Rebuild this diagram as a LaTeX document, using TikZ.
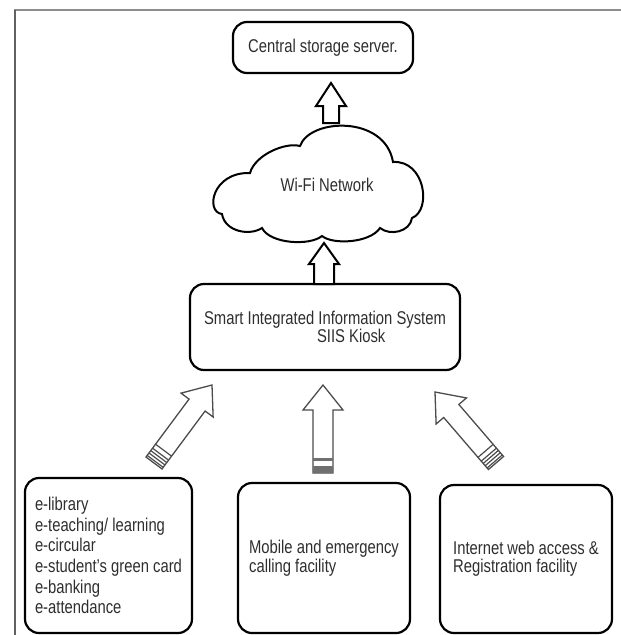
\documentclass[tikz,border=0pt]{standalone}
\usepackage{fontspec}
\setmainfont{Liberation Sans}[FakeStretch=0.8]
\usetikzlibrary{calc}
\definecolor{txt}{gray}{0.18}
\definecolor{arrgray}{gray}{0.3}
\definecolor{framegray}{gray}{0.55}
\newcommand\blockarrow[7]{%
  \coordinate (#1h) at ($(#3)!#6!(#2)$);
  \draw[#7] ($(#2)!#4!90:(#3)$) -- ($(#1h)!#4!-90:(#2)$) -- ($(#1h)!#5!-90:(#2)$) -- (#3) -- ($(#1h)!#5!90:(#2)$) -- ($(#1h)!#4!90:(#2)$) -- ($(#2)!#4!-90:(#3)$) -- cycle;
}
\newcommand\tailstripes[5]{%
  \foreach \dd in {#4} {
    \coordinate (tmpS) at ($(#1)!\dd!(#2)$);
    \draw[#5] ($(tmpS)!#3!90:(#2)$) -- ($(tmpS)!#3!-90:(#2)$);
  }
}
\tikzset{
  box/.style={draw=black, line width=2.2pt, rounded corners=14pt, inner sep=0pt, align=left, text=txt},
  fnt/.style={font=\fontsize{18.5}{#1}\selectfont},
  blackarrow/.style={draw=black, line width=2pt, fill=white, line join=miter},
  grayarrow/.style={draw=arrgray, line width=1.3pt, fill=white, line join=miter},
  stripe/.style={draw=arrgray, line width=1.2pt}
}
\begin{document}
\begin{tikzpicture}[x=1pt,y=-1pt]
\useasboundingbox (0,0) rectangle (621,635);
% frame
\draw[framegray, line width=2.5pt] (14,10) -- (621,10);
\draw[framegray!70!black, line width=1.2pt] (15,10) -- (15,635);

% boxes
\node[box, fnt=20, minimum width=180pt, minimum height=51pt] (central) at (323,47.5) {Central storage server.};
\node[box, fnt=17, minimum width=270pt, minimum height=86pt] (siis) at (325,327)
  {Smart Integrated Information System\\\hspace*{113pt}SIIS Kiosk};
\node[box, fnt=20.7, minimum width=167pt, minimum height=155pt] (b1) at (108.5,555.5)
  {e-library\\e-teaching/ learning\\e-circular\\e-student's green card\\e-banking\\e-attendance};
\node[box, fnt=19, minimum width=172pt, minimum height=150pt] (b2) at (324,558)
  {Mobile and emergency\\calling facility};
\node[box, fnt=18, minimum width=172pt, minimum height=148pt] (b3) at (526,559)
  {Internet web access \&\\Registration facility};

% cloud
\draw[black, line width=2pt, fill=white]
  (222,214) .. controls (205,212) and (212,172) .. (250,173)
  .. controls (255,155) and (285,142) .. (300,146)
  .. controls (310,118) and (385,115) .. (393,162)
  .. controls (425,160) and (432,210) .. (412,218)
  .. controls (410,232) and (390,236) .. (380,228)
  .. controls (370,243) and (333,245) .. (322,236)
  .. controls (310,246) and (270,244) .. (262,228)
  .. controls (250,236) and (225,232) .. (222,214) -- cycle;
\node[fnt=20, text=txt] (cloud) at (327,185) {Wi-Fi Network};

% arrow end points
\coordinate (t1) at (331,123);
\coordinate (p1) at (331,83);
\coordinate (t2) at (324,284);
\coordinate (p2) at (324,243);
\coordinate (t3) at (323,473);
\coordinate (p3) at (323,385);
\coordinate (t4) at (154,463);
\coordinate (p4) at (212,385);
\coordinate (t5) at (496,463);
\coordinate (p5) at (435,392);

% arrows
\blockarrow{A1}{t1}{p1}{8pt}{15pt}{23pt}{blackarrow}
\blockarrow{A2}{t2}{p2}{10pt}{15pt}{21pt}{blackarrow}
\blockarrow{A3}{t3}{p3}{10pt}{20pt}{25pt}{grayarrow}
\blockarrow{A4}{t4}{p4}{10pt}{20pt}{25pt}{grayarrow}
\blockarrow{A5}{t5}{p5}{10pt}{20pt}{25pt}{grayarrow}

% tail stripes
\tailstripes{t3}{p3}{10pt}{3.5pt}{draw=arrgray!80, line width=7pt}
\tailstripes{t3}{p3}{10pt}{13.5pt}{draw=arrgray!80, line width=3pt}
\tailstripes{t4}{p4}{10pt}{2pt,5pt,8pt,11pt,16pt}{stripe}
\tailstripes{t5}{p5}{10pt}{2pt,5pt,8pt,11pt,16pt}{stripe}
\end{tikzpicture}
\end{document}
